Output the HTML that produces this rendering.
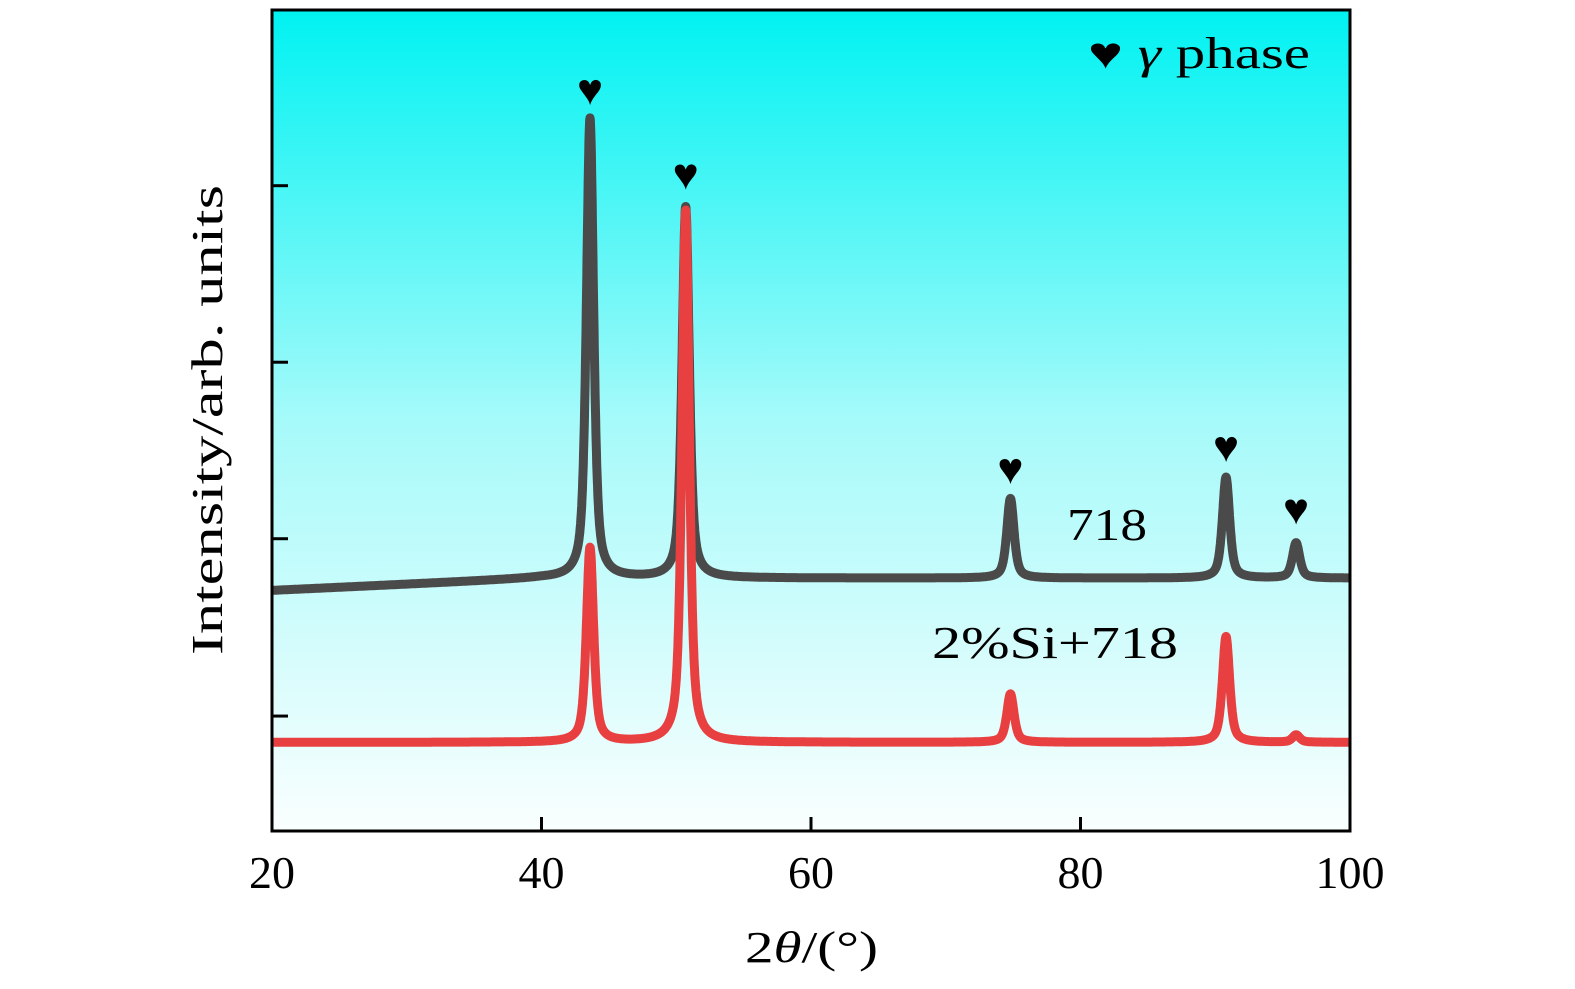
<!DOCTYPE html>
<html><head><meta charset="utf-8"><style>
body{margin:0;background:#fff;}
svg text{font-family:"Liberation Serif",serif;}
</style></head><body>
<svg id="chart" width="1575" height="984" viewBox="0 0 1575 984" xmlns="http://www.w3.org/2000/svg">
<defs><linearGradient id="bg" x1="0" y1="0" x2="0" y2="1">
<stop offset="0" stop-color="#00f2f2"/><stop offset="0.5" stop-color="#a6fafa"/><stop offset="1" stop-color="#fafefe"/></linearGradient></defs>
<rect x="272" y="10" width="1078" height="821" fill="url(#bg)"/>
<g id="marks"></g>
<g id="axes"></g>
<text x="1088" y="68" font-size="44" textLength="222" lengthAdjust="spacingAndGlyphs">♥ <tspan font-style="italic">γ</tspan> phase</text>
<text x="1067" y="540" font-size="46" textLength="80" lengthAdjust="spacingAndGlyphs">718</text>
<text x="932" y="658" font-size="46" textLength="246" lengthAdjust="spacingAndGlyphs">2%Si+718</text>
<text x="745" y="962" font-size="44" textLength="133" lengthAdjust="spacingAndGlyphs">2<tspan font-style="italic">θ</tspan>/(°)</text>
<text transform="translate(222,420) rotate(-90)" font-size="44" text-anchor="middle" textLength="470" lengthAdjust="spacingAndGlyphs">Intensity/arb. units</text>
</svg>
<script>
const xTicks=[20,40,60,80,100];
const yTicks=[786,571,356,140];
const peakPos=[43.6,50.7,74.8,90.8,96.0];
const graySeriesHeights=[560,452,97,123,43];
const redSeriesHeights=[237,648,59,129,9];
const grayBaseline=[293,308];
const redBaseline=[108,108];
const heartPeaks=[43.6,50.7,74.8,90.8,96.0];
const heartValues=[885,782,423,450,374];
const X0=272,X1=1350,Y0=831,Y1=10;
const xs=v=>X0+(v-20)/80*(X1-X0);
const ys=v=>Y0-v/1000*(Y0-Y1);
const NS='http://www.w3.org/2000/svg';
const marks=document.getElementById('marks'),axes=document.getElementById('axes');
function prof(x,base,h){let b=base[0]+(base[1]-base[0])*Math.min(1,(x-20)/20);let s=b;
 for(let i=0;i<peakPos.length;i++){const d=(x-peakPos[i])/0.32;s+=h[i]*(0.6/(1+d*d)+0.4*Math.exp(-0.693*d*d));}return s;}
function draw(base,h,color,name){let d='';for(let x=20;x<=100;x+=0.02){d+=(d?'L':'M')+xs(x).toFixed(1)+','+ys(prof(x,base,h)).toFixed(1);}
 const p=document.createElementNS(NS,'path');p.setAttribute('d',d);p.setAttribute('fill','none');p.setAttribute('stroke',color);p.setAttribute('stroke-width','9');p.setAttribute('stroke-linejoin','round');
 
 
 marks.appendChild(p);}
draw(grayBaseline,graySeriesHeights,'#4a4a4a','series-718');
draw(redBaseline,redSeriesHeights,'#e84040','series-2si-718');
heartPeaks.forEach((p,i)=>{const t=document.createElementNS(NS,'text');t.setAttribute('x',xs(p));t.setAttribute('y',ys(heartValues[i]));t.setAttribute('font-size','44');t.setAttribute('text-anchor','middle');t.textContent='♥';
 
 
 marks.appendChild(t);});
const frame=document.createElementNS(NS,'rect');frame.setAttribute('x',X0);frame.setAttribute('y',Y1);frame.setAttribute('width',X1-X0);frame.setAttribute('height',Y0-Y1);frame.setAttribute('fill','none');frame.setAttribute('stroke','#000');frame.setAttribute('stroke-width','3');


axes.appendChild(frame);
xTicks.forEach(v=>{const l=document.createElementNS(NS,'line');l.setAttribute('x1',xs(v));l.setAttribute('x2',xs(v));l.setAttribute('y1',Y0);l.setAttribute('y2',Y0-14);l.setAttribute('stroke','#000');l.setAttribute('stroke-width','3');
 
 
 axes.appendChild(l);
 const t=document.createElementNS(NS,'text');t.setAttribute('x',xs(v));t.setAttribute('y',888);t.setAttribute('font-size','46');t.setAttribute('text-anchor','middle');t.textContent=v;
 
 
 axes.appendChild(t);});
yTicks.forEach(v=>{const l=document.createElementNS(NS,'line');l.setAttribute('x1',X0);l.setAttribute('x2',X0+16);l.setAttribute('y1',ys(v));l.setAttribute('y2',ys(v));l.setAttribute('stroke','#000');l.setAttribute('stroke-width','3');
 
 
 axes.appendChild(l);});
</script>
</body></html>
